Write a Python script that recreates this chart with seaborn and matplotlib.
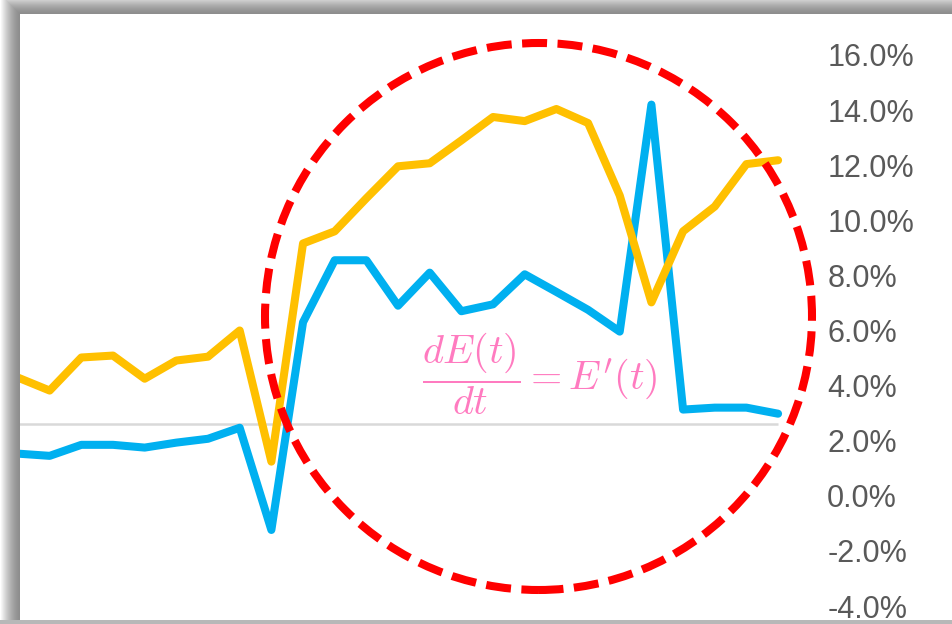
import numpy as np
import pandas as pd
import seaborn as sns
import matplotlib.pyplot as plt
from matplotlib.patches import Ellipse
from matplotlib.ticker import FuncFormatter

## data (percent) ##
periods = list(range(25))
blue_vals = [1.53, 1.45, 1.85, 1.85, 1.75, 1.93, 2.07, 2.47, -1.24, 6.3,
             8.55, 8.55, 6.9, 8.1, 6.7, 6.95, 8.04, 7.4, 6.75, 5.96,
             14.2, 3.13, 3.2, 3.2, 2.98]
yellow_vals = [4.29, 3.82, 5.02, 5.09, 4.25, 4.91, 5.05, 6.0, 1.24, 9.16,
               9.6, 10.8, 11.96, 12.07, 12.9, 13.75, 13.6, 14.04, 13.53, 10.9,
               7.02, 9.6, 10.5, 12.04, 12.18]
ref_level = 2.6
y_ticks = [-4, -2, 0, 2, 4, 6, 8, 10, 12, 14, 16]

df = pd.DataFrame({'period': periods * 2,
                   'value': blue_vals + yellow_vals,
                   'series': ['blue'] * 25 + ['yellow'] * 25})

sns.set_style('white')
plt.rcParams['font.family'] = ['Liberation Sans', 'DejaVu Sans']
plt.rcParams['mathtext.fontset'] = 'cm'

W, H = 952, 624
fig = plt.figure(figsize=(W / 100, H / 100), dpi=100)

# background frame with the screenshot shadow on top / left
bg = fig.add_axes([0, 0, 1, 1], zorder=0)
yy, xx = np.mgrid[0:H, 0:W]
d = np.maximum(20 - xx, 14 - yy).astype(float)
img = np.ones((H, W))
out = d > 0
img[out] = 0.55 + 0.45 * np.clip((d[out] / 20.0) ** 1.6, 0, 1)
img[yy >= 620] = 0.72
bg.imshow(img, cmap='gray', vmin=0, vmax=1, aspect='auto', interpolation='bilinear')
bg.axis('off')

# main axes in pixel layout
x0, x1 = 20, 805
y_top, y_bot = 55, 606
ax = fig.add_axes([x0 / W, 1 - y_bot / H, (x1 - x0) / W, (y_bot - y_top) / H], zorder=1)
ax.patch.set_alpha(0)

ax.hlines(ref_level, 0, 24, color='#d9d9d9', lw=1.8, zorder=1)
sns.lineplot(data=df, x='period', y='value', hue='series',
             palette={'blue': '#00B0F0', 'yellow': '#FFC000'},
             linewidth=5.8, legend=False, ax=ax, zorder=3)

ax.set_xlim(0.063, 24.85)
ax.set_ylim(-4, 16)
ax.set_yticks(y_ticks)
ax.yaxis.tick_right()
ax.yaxis.set_major_formatter(FuncFormatter(lambda v, p: f'{v:.1f}%'))
ax.tick_params(axis='y', length=0, pad=16, labelsize=22, labelcolor='#595959')
for lab in ax.get_yticklabels():
    lab.set_horizontalalignment('left')
ax.set_xticks([])
ax.set_xlabel('')
ax.set_ylabel('')
for s in ax.spines.values():
    s.set_visible(False)

# red dashed circle
circ = Ellipse((538.5 / W, 1 - 316.5 / H), 547 / W, 547 / H, transform=fig.transFigure,
               fill=False, edgecolor='#FF0000', lw=5.8, linestyle=(0, (3.1, 1.3)),
               zorder=5, clip_on=False)
fig.add_artist(circ)

fig.text(540 / W, 1 - 374 / H, r"$\dfrac{dE(t)}{dt}=E'(t)$", color='#FF7BC0',
         fontsize=29, ha='center', va='center', zorder=6)

fig.savefig('out.png', dpi=100)
